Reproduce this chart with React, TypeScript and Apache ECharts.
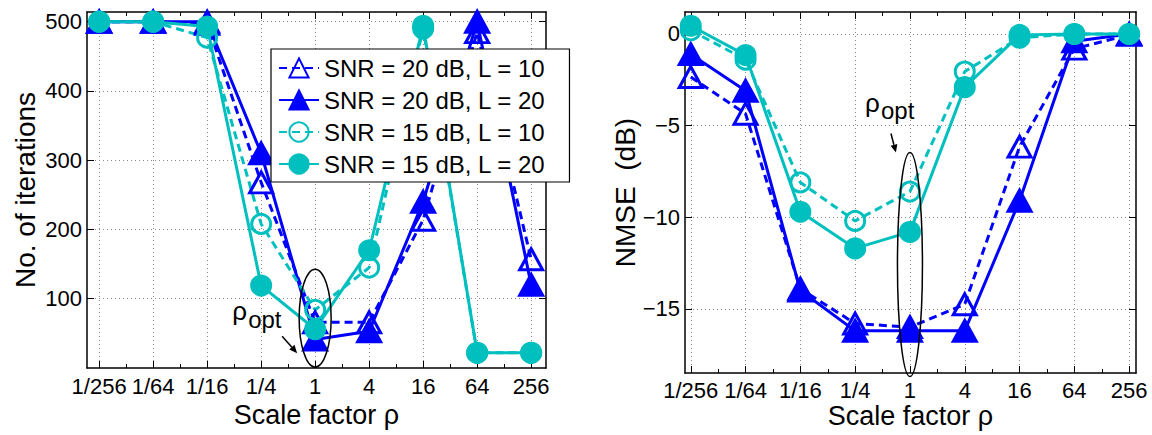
import React, { useEffect, useRef } from "react";
import * as echarts from "echarts";

// ---------- data ----------
const rhoLabels = ["1/256", "1/64", "1/16", "1/4", "1", "4", "16", "64", "256"];
const rhoLog2 = [-8, -6, -4, -2, 0, 2, 4, 6, 8];
const minorLog2 = [-8, -7, -6, -5, -4, -3, -2, -1, 0, 1, 2, 3, 4, 5, 6, 7, 8];

const seriesNames = [
  "SNR = 20 dB, L = 10",
  "SNR = 20 dB, L = 20",
  "SNR = 15 dB, L = 10",
  "SNR = 15 dB, L = 20",
];

// left panel: number of iterations
const iterSnr20L10 = [500, 500, 497, 268, 66, 66, 214, 485, 157];
const iterSnr20L20 = [500, 500, 500, 310, 41, 53, 240, 500, 120];
const iterSnr15L10 = [500, 500, 477, 208, 84, 145, 490, 22, 22];
const iterSnr15L20 = [500, 500, 493, 119, 56, 170, 494, 22, 22];

// right panel: NMSE (dB)
const nmseSnr20L10 = [-2.35, -4.35, -13.9, -15.8, -16.0, -14.75, -6.15, -0.8, -0.05];
const nmseSnr20L20 = [-1.1, -3.1, -14.0, -16.2, -16.2, -16.2, -9.1, -0.4, 0];
const nmseSnr15L10 = [0.2, -1.4, -8.1, -10.2, -8.6, -2.05, -0.2, 0, 0];
const nmseSnr15L20 = [0.45, -1.15, -9.7, -11.7, -10.8, -2.9, -0.05, 0, 0];

const iterTicks = [100, 200, 300, 400, 500];
const nmseTicks = [-15, -10, -5, 0];

// ---------- styles ----------
const BLUE = "#0000ff";
const CYAN = "#00bfbf";
const FONT = "'Liberation Sans', Arial, Helvetica, sans-serif";

const seriesStyles = [
  { color: BLUE, dashed: true, symbol: "triangle", filled: false },
  { color: BLUE, dashed: false, symbol: "triangle", filled: true },
  { color: CYAN, dashed: true, symbol: "circle", filled: false },
  { color: CYAN, dashed: false, symbol: "circle", filled: true },
];

function makeSeries(name: string, values: number[], st: any, g: number) {
  return {
    type: "line",
    name,
    xAxisIndex: g * 4,
    yAxisIndex: g * 2,
    data: rhoLog2.map((x, i) => [x, values[i]]),
    symbol: st.symbol,
    symbolSize: st.symbol === "triangle" ? [23, 21] : 19,
    showSymbol: true,
    clip: false,
    silent: true,
    lineStyle: { color: st.color, width: 3, type: st.dashed ? [8, 5] : "solid" },
    itemStyle: {
      color: st.filled ? st.color : "rgba(255,255,255,0)",
      borderColor: st.color,
      borderWidth: 3,
    },
    emphasis: { disabled: true },
  };
}

const dotted = { color: "#8a8a8a", width: 1, type: [1, 3] };
const blackLine = { color: "#000", width: 1.5 };
const tickLine = { color: "#000", width: 1 };

function xAxesFor(g: number, min: number, max: number, labelMargin: number, nameGap: number) {
  const base = { gridIndex: g, type: "value", min, max };
  return [
    {
      ...base,
      position: "bottom",
      axisLine: { show: true, onZero: false, lineStyle: blackLine },
      axisTick: { show: true, inside: true, length: 7, customValues: rhoLog2, lineStyle: tickLine },
      axisLabel: {
        show: true,
        customValues: rhoLog2,
        formatter: (v: number) => rhoLabels[rhoLog2.indexOf(v)] ?? "",
        fontSize: 22,
        fontFamily: FONT,
        color: "#000",
        margin: labelMargin,
      },
      splitLine: { show: true, lineStyle: dotted },
      name: "Scale factor \u03c1",
      nameLocation: "middle",
      nameGap,
      nameMoveOverlap: false,
      nameTextStyle: { fontSize: 27, fontFamily: FONT, color: "#000" },
    },
    {
      ...base,
      position: "bottom",
      axisLine: { show: false, onZero: false },
      axisTick: { show: true, inside: true, length: 4, customValues: minorLog2, lineStyle: tickLine },
      axisLabel: { show: false },
      splitLine: { show: false },
    },
    {
      ...base,
      position: "top",
      axisLine: { show: true, onZero: false, lineStyle: blackLine },
      axisTick: { show: true, inside: true, length: 7, customValues: rhoLog2, lineStyle: tickLine },
      axisLabel: { show: false },
      splitLine: { show: false },
    },
    {
      ...base,
      position: "top",
      axisLine: { show: false, onZero: false },
      axisTick: { show: true, inside: true, length: 4, customValues: minorLog2, lineStyle: tickLine },
      axisLabel: { show: false },
      splitLine: { show: false },
    },
  ];
}

function yAxesFor(g: number, min: number, max: number, ticks: number[], name: string, nameGap: number) {
  const base = { gridIndex: g, type: "value", min, max };
  return [
    {
      ...base,
      position: "left",
      axisLine: { show: true, onZero: false, lineStyle: blackLine },
      axisTick: { show: true, inside: true, length: 7, customValues: ticks, lineStyle: tickLine },
      axisLabel: {
        show: true,
        customValues: ticks,
        formatter: (v: number) => (v < 0 ? "\u2212" + Math.abs(v) : String(v)),
        fontSize: 22,
        fontFamily: FONT,
        color: "#000",
        margin: 5,
      },
      splitLine: { show: true, lineStyle: dotted },
      name,
      nameLocation: "middle",
      nameGap,
      nameRotate: 90,
      nameMoveOverlap: false,
      nameTextStyle: { fontSize: 28, fontFamily: FONT, color: "#000" },
    },
    {
      ...base,
      position: "right",
      axisLine: { show: true, onZero: false, lineStyle: blackLine },
      axisTick: { show: true, inside: true, length: 7, customValues: ticks, lineStyle: tickLine },
      axisLabel: { show: false },
      splitLine: { show: false },
    },
  ];
}

function arrow(x1: number, y1: number, x2: number, y2: number) {
  const dx = x2 - x1;
  const dy = y2 - y1;
  const len = Math.sqrt(dx * dx + dy * dy);
  const ux = dx / len;
  const uy = dy / len;
  const hl = 8;
  const hw = 3.5;
  const bx = x2 - ux * hl;
  const by = y2 - uy * hl;
  return [
    { type: "line", shape: { x1, y1, x2: bx, y2: by }, style: { stroke: "#000", lineWidth: 1.5 }, silent: true },
    {
      type: "polygon",
      shape: { points: [[x2, y2], [bx - uy * hw, by + ux * hw], [bx + uy * hw, by - ux * hw]] },
      style: { fill: "#000" },
      silent: true,
    },
  ];
}

function rhoOpt(cx: number, cy: number, rx: number, ry: number, tx: number, ty: number, a: number[]) {
  return [
    { type: "ellipse", shape: { cx, cy, rx, ry }, style: { fill: "none", stroke: "#000", lineWidth: 1.5 }, silent: true, z: 50 },
    { type: "text", x: tx, y: ty, style: { text: "\u03c1", font: `26px ${FONT}`, fill: "#000", textAlign: "left", textVerticalAlign: "middle" }, silent: true, z: 50 },
    { type: "text", x: tx + 16, y: ty + 8, style: { text: "opt", font: `24px ${FONT}`, fill: "#000", textAlign: "left", textVerticalAlign: "middle" }, silent: true, z: 50 },
    ...arrow(a[0], a[1], a[2], a[3]).map((e) => ({ ...e, z: 50 })),
  ];
}

export default function App() {
  const ref = useRef<HTMLDivElement>(null);

  useEffect(() => {
    document.body.style.margin = "0";
    if (!ref.current) return;
    const chart = echarts.init(ref.current, null, { renderer: "svg" });

    const leftVals = [iterSnr20L10, iterSnr20L20, iterSnr15L10, iterSnr15L20];
    const rightVals = [nmseSnr20L10, nmseSnr20L20, nmseSnr15L10, nmseSnr15L20];

    const option: any = {
      animation: false,
      backgroundColor: "#fff",
      grid: [
        { left: 87, top: 12, width: 459, height: 356, outerBoundsMode: "none", containLabel: false },
        { left: 685, top: 12, width: 451, height: 361, outerBoundsMode: "none", containLabel: false },
      ],
      xAxis: [...xAxesFor(0, -8.45, 8.55, 7, 33), ...xAxesFor(1, -8.21, 8.25, 6, 29)],
      yAxis: [
        ...yAxesFor(0, 0, 514, iterTicks, "No. of iterations", 48),
        ...yAxesFor(1, -18.5, 1.2, nmseTicks, "NMSE  (dB)", 46),
      ],
      legend: {
        left: 271,
        top: 49,
        orient: "vertical",
        data: seriesNames,
        itemWidth: 40,
        itemHeight: 24,
        itemGap: 8,
        padding: [7, 24, 6, 7],
        backgroundColor: "#fff",
        borderColor: "#000",
        borderWidth: 1.2,
        borderRadius: 0,
        selectedMode: false,
        textStyle: { fontSize: 24, fontFamily: FONT, color: "#000" },
        z: 40,
      },
      series: [
        ...seriesNames.map((n, i) => makeSeries(n, leftVals[i], seriesStyles[i], 0)),
        ...seriesNames.map((n, i) => makeSeries(n, rightVals[i], seriesStyles[i], 1)),
      ],
    };
    chart.setOption(option);

    // annotations anchored on rho = 1
    const pL = chart.convertToPixel({ xAxisIndex: 0, yAxisIndex: 0 }, [0, 72]) as number[];
    const pR = chart.convertToPixel({ xAxisIndex: 4, yAxisIndex: 2 }, [0, -12.58]) as number[];
    const graphic = [
      ...rhoOpt(pL[0], pL[1], 16, 49, pL[0] - 83, pL[1] - 7, [pL[0] - 33, pL[1] + 18, pL[0] - 18, pL[1] + 35]),
      ...rhoOpt(pR[0], pR[1], 12.5, 112, pR[0] - 45, pR[1] - 162, [pR[0] - 19, pR[1] - 131, pR[0] - 14, pR[1] - 112]),
    ];
    chart.setOption({ graphic });

    return () => chart.dispose();
  }, []);

  return <div ref={ref} style={{ width: 1152, height: 435 }} />;
}
